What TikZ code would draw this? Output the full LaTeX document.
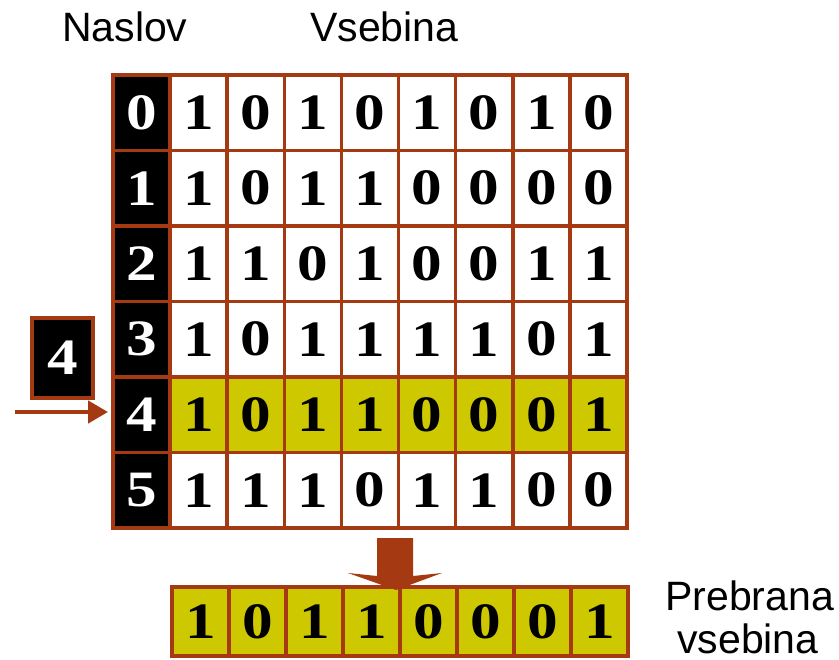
\documentclass[tikz,border=0pt]{standalone}
\usepackage{fontspec}
\setmainfont{Liberation Serif}
\newfontfamily\arialfont{Liberation Sans}
\newfontfamily\digitfamily[FakeStretch=1.2]{Liberation Serif}
\usetikzlibrary{arrows.meta}
\definecolor{brn}{RGB}{165,58,18}
\definecolor{ylw}{RGB}{205,200,0}
\newcommand{\digitfont}{\digitfamily\fontsize{51}{51}\selectfont\bfseries}
\newcommand{\labelfont}{\arialfont\fontsize{41}{41}\selectfont}
\begin{document}
\begin{tikzpicture}[x=1pt,y=-1pt,
  cell/.style={draw=brn,line width=3.5pt,minimum width=57.11pt,minimum height=75.5pt,
    inner sep=0pt,outer sep=0pt,font=\digitfont,anchor=north west},
  ocell/.style={cell,minimum width=57pt,minimum height=69pt},
  lbl/.style={font=\labelfont,inner sep=0pt,anchor=base west}]
\useasboundingbox (0,0) rectangle (839,660);
% backgrounds
\fill[ylw] (170,377.5) rectangle (627,453);
\fill[black] (113,75) rectangle (170,528);
\fill[ylw] (172,587) rectangle (628,656);
% header column
\foreach \r in {0,...,5}
  \node[cell,text=white] (h\r) at (113,{75+\r*75.5}) {\r};
% data cells
\foreach \row [count=\r from 0] in {{1,0,1,0,1,0,1,0},{1,0,1,1,0,0,0,0},{1,1,0,1,0,0,1,1},
    {1,0,1,1,1,1,0,1},{1,0,1,1,0,0,0,1},{1,1,1,0,1,1,0,0}}
  \foreach \v [count=\c] in \row
    \node[cell] (c\r-\c) at ({113+\c*57.11},{75+\r*75.5}) {\v};
% output row
\foreach \v [count=\c] in {1,0,1,1,0,0,0,1}
  \node[ocell] (o\c) at ({172+(\c-1)*57},587) {\v};
% key box
\node[draw=brn,fill=black,line width=3.5pt,minimum width=61pt,minimum height=80pt,
  inner sep=0pt,text=white,font=\digitfont] (key) at (62.5,358) {4};
% pointer arrow
\coordinate (src) at (15,412);
\draw[brn,line width=4.5pt,-{Triangle[length=20pt,width=22pt]},shorten >=5pt] (src) -- (src -| h4.west);
% down arrow
\fill[brn] (377,538) -- (413,538) -- (413,576) -- (442,573) -- (396,590) -- (348,573) -- (377,576) -- cycle;
% labels
\node[lbl] (naslov) at (62,42) {Naslov};
\node[lbl] (vsebina) at (310,42) {Vsebina};
\node[lbl] (prebrana) at (665,610) {Prebrana};
\node[lbl] (vsebina2) at (677,653) {vsebina};
\end{tikzpicture}
\end{document}
